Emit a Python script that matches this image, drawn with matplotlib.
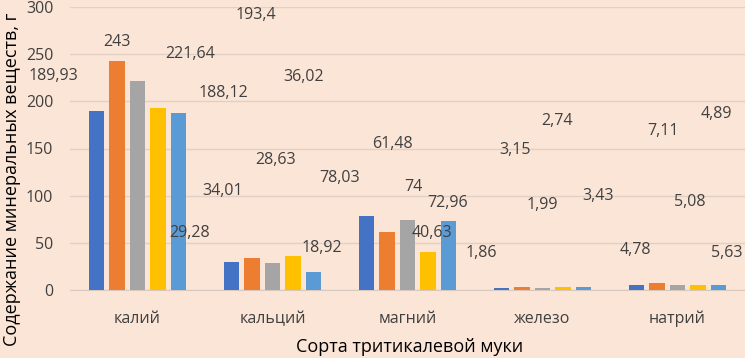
import numpy as np
import matplotlib.pyplot as plt

# Данные
categories = ['калий', 'кальций', 'магний', 'железо', 'натрий']
s1 = [189.93, 29.28, 78.03, 1.86, 4.78]
s2 = [243, 34.01, 61.48, 3.15, 7.11]
s3 = [221.64, 28.63, 74, 1.99, 5.08]
s4 = [193.4, 36.02, 40.63, 2.74, 4.89]
s5 = [188.12, 18.92, 72.96, 3.43, 5.63]
series = [s1, s2, s3, s4, s5]
colors = ['#4472C4', '#ED7D31', '#A5A5A5', '#FFC000', '#5B9BD5']

# Позиции подписей (пиксели от левого верхнего угла), как на исходнике
label_pos = [
    [(53, 76), (190, 233), (340, 178), (481, 253), (635, 250)],
    [(117, 42), (223, 191), (392, 144), (515, 150), (663, 131)],
    [(190, 54), (276, 160), (413, 187), (542, 205), (690, 202)],
    [(256, 15), (304, 77), (432, 233), (557, 121), (716, 114)],
    [(223, 93), (322, 248), (448, 203), (598, 196), (727, 253)],
]

W, H = 745, 358
bg = '#FBE5D6'
txt = '#404040'
plt.rcParams['font.family'] = ['Open Sans', 'DejaVu Sans']

fig = plt.figure(figsize=(W / 100, H / 100), dpi=100, facecolor=bg)
ax = fig.add_axes([70 / W, 1 - 290 / H, 1 - 70 / W, (290 - 7) / H], facecolor=bg)

x = np.arange(len(categories))
step, width = 0.152, 0.115
for i, vals in enumerate(series):
    ax.bar(x + (i - 2) * step, vals, width=width, color=colors[i], zorder=3)

ax.set_xlim(-0.5, len(categories) - 0.5)
ax.set_ylim(0, 300)
ax.set_yticks(range(0, 301, 50))
ax.set_xticks(x)
ax.set_xticklabels(categories)
ax.grid(axis='y', color='#E0D0C6', linewidth=1, zorder=0)
for s in ['top', 'right', 'left']:
    ax.spines[s].set_visible(False)
ax.spines['bottom'].set_color('#D8C8BE')
ax.tick_params(axis='both', length=0, colors=txt, labelsize=11.5)
ax.tick_params(axis='x', pad=15, labelsize=11.5)
ax.tick_params(axis='y', pad=12)

# Подписи значений
for i, vals in enumerate(series):
    for j, v in enumerate(vals):
        px, py = label_pos[i][j]
        lab = f'{v:g}'.replace('.', ',')
        fig.text(px / W, 1 - py / H, lab, ha='center', va='center',
                 fontsize=11.5, color=txt)

fig.text(410 / W, 1 - 347 / H, 'Сорта тритикалевой муки', ha='center',
         va='center', fontsize=13, color='black')
fig.text(12 / W, 0.5, 'Содержание минеральных веществ, г', ha='center',
         va='center', rotation=90, fontsize=13, color='black')

fig.savefig('out.png', dpi=100, facecolor=bg)
